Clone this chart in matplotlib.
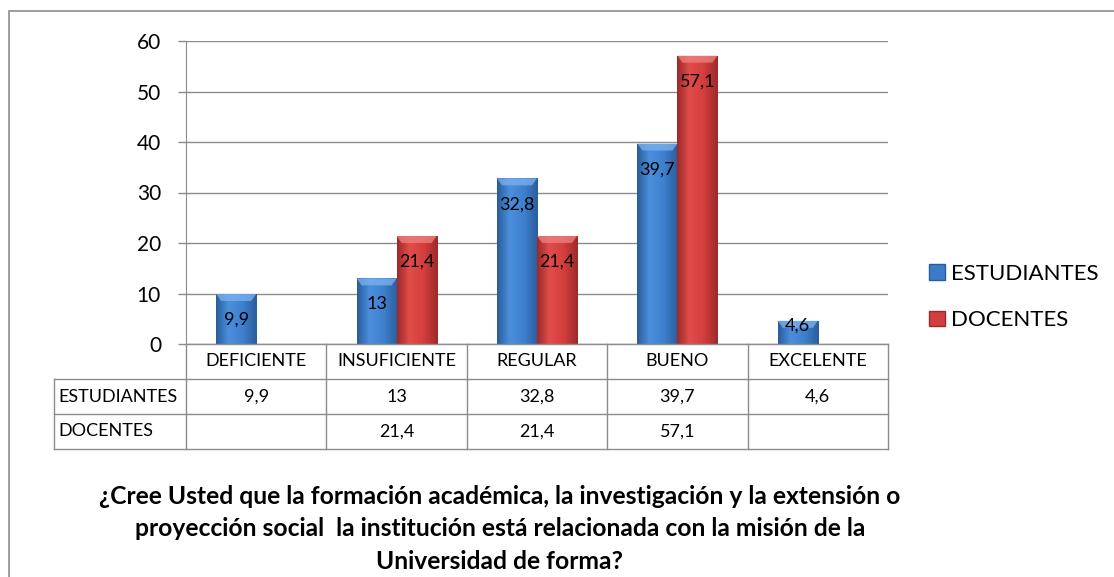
import matplotlib
matplotlib.use('Agg')
import matplotlib.pyplot as plt
import numpy as np
from matplotlib.patches import Rectangle, Patch, Polygon
from matplotlib.colors import LinearSegmentedColormap

# ---------------- data ----------------
categories = ['DEFICIENTE', 'INSUFICIENTE', 'REGULAR', 'BUENO', 'EXCELENTE']
series_names = ['ESTUDIANTES', 'DOCENTES']
estudiantes = [9.9, 13, 32.8, 39.7, 4.6]
docentes = [None, 21.4, 21.4, 57.1, None]
y_ticks = [0, 10, 20, 30, 40, 50, 60]
title_lines = ['¿Cree Usted que la formación académica, la investigación y la extensión o',
               'proyección social  la institución está relacionada con la misión de la',
               'Universidad de forma?']

plt.rcParams['font.family'] = ['Lato', 'DejaVu Sans']

W, H = 1114, 577
fig = plt.figure(figsize=(W / 100, H / 100), dpi=100)
fig.patch.set_facecolor('white')


def fx(px):
    return px / W


def fy(py):
    return 1 - py / H


def fmt(v):
    return '' if v is None else f'{v:g}'.replace('.', ',')


GRID = '#8C8C8C'
BLUE = '#3B7CC8'
RED = '#D23F3E'
blue_cmap = LinearSegmentedColormap.from_list(
    'b', [(0, '#2A5C9A'), (0.3, '#4A8EDC'), (0.65, '#3F81CF'), (1, '#2B5D9C')])
red_cmap = LinearSegmentedColormap.from_list(
    'r', [(0, '#9C2A2A'), (0.3, '#E24D4B'), (0.65, '#D43F3E'), (1, '#9E2B2B')])
bevel_colors = ['#7DB2EE', '#F08380']

# ---------------- main axes ----------------
ax = fig.add_axes([fx(186), fy(344), fx(888) - fx(186), fy(41) - fy(344)])
x = np.arange(len(categories))
bw = 0.285

series = [(estudiantes, -bw / 2, BLUE, blue_cmap), (docentes, bw / 2, RED, red_cmap)]
bar_groups = []
for vals, off, col, cmap in series:
    xs = [xi + off for xi, v in zip(x, vals) if v is not None]
    hs = [v for v in vals if v is not None]
    bars = ax.bar(xs, hs, width=bw, color=col, zorder=2, linewidth=0)
    bar_groups.append((bars, hs, cmap))

px_x = 702 / 5.0          # pixels per category unit
px_y = (344 - 41) / 60.0  # pixels per value unit
grad = np.linspace(0, 1, 64)[np.newaxis, :]
for gi, (bars, hs, cmap) in enumerate(bar_groups):
    for rect in bars:
        x0, w, h = rect.get_x(), rect.get_width(), rect.get_height()
        im = ax.imshow(grad, extent=[x0, x0 + w, 0, h], aspect='auto', cmap=cmap,
                       zorder=3, interpolation='bilinear')
        im.set_clip_path(rect)
        d = 5 / px_x
        b = min(7 / px_y, h * 0.4)
        bev = Polygon([(x0, h), (x0 + w, h), (x0 + w - d, h - b), (x0 + d, h - b)],
                      closed=True, facecolor=bevel_colors[gi], edgecolor='none',
                      alpha=0.75, zorder=4)
        ax.add_patch(bev)

ax.set_xlim(-0.5, len(categories) - 0.5)
ax.set_ylim(0, 60)
ax.set_yticks(y_ticks)
ax.set_xticks([])
ax.tick_params(axis='y', length=6, width=1, color=GRID, pad=12, labelsize=15)
for s in ['top', 'right', 'bottom']:
    ax.spines[s].set_visible(False)
ax.spines['left'].set_color(GRID)
ax.yaxis.grid(True, color=GRID, lw=1)
ax.set_axisbelow(True)

# data labels (inside end)
for bars, hs, cmap in bar_groups:
    for rect, v in zip(bars, hs):
        hpx = v * px_y
        off_px = min(26, hpx - 18)
        ax.annotate(fmt(v), xy=(rect.get_x() + rect.get_width() / 2, v),
                    xytext=(0, -off_px * 72 / 100), textcoords='offset points',
                    ha='center', va='center', fontsize=13, zorder=5)

# ---------------- data table ----------------
tax = fig.add_axes([fx(186), fy(449), fx(888) - fx(186), fy(344) - fy(449)])
tax.set_xlim(-0.5, len(categories) - 0.5)
tax.set_ylim(0, 3)
tax.axis('off')
xl = -0.5 - (186 - 54) / px_x
lk = dict(color=GRID, lw=1, clip_on=False)
tax.plot([-0.5, 4.5], [3, 3], **lk)
for yy in [2, 1, 0]:
    tax.plot([xl, 4.5], [yy, yy], **lk)
for k in range(len(categories) + 1):
    tax.plot([-0.5 + k, -0.5 + k], [0, 3], **lk)
tax.plot([xl, xl], [0, 2], **lk)

for i, c in enumerate(categories):
    tax.text(i, 2.5, c, ha='center', va='center', fontsize=13)
    tax.text(i, 1.5, fmt(estudiantes[i]), ha='center', va='center', fontsize=13)
    tax.text(i, 0.5, fmt(docentes[i]), ha='center', va='center', fontsize=13)
tax.text(xl + 0.03, 1.5, series_names[0], ha='left', va='center', fontsize=13)
tax.text(xl + 0.03, 0.5, series_names[1], ha='left', va='center', fontsize=13)

# ---------------- legend ----------------
handles = [Patch(facecolor=BLUE, edgecolor='#2A5C9A'), Patch(facecolor=RED, edgecolor='#9C2A2A')]
fig.legend(handles, series_names, loc='center left', bbox_to_anchor=(fx(929), fy(297)),
           frameon=False, prop={'size': 16}, handlelength=0.7, handleheight=0.7,
           handletextpad=0.3, labelspacing=1.2, borderpad=0, borderaxespad=0)

# ---------------- title ----------------
fig.text(fx(500), fy(529), '\n'.join(title_lines), ha='center', va='center',
         fontsize=17.7, fontweight='bold', linespacing=1.5)

# ---------------- outer border ----------------
fig.add_artist(Rectangle((fx(9), fy(600)), 1.0, fy(11) - fy(600), transform=fig.transFigure,
                         fill=False, edgecolor=GRID, lw=1.2, clip_on=False))

fig.savefig('out.png', dpi=100)
